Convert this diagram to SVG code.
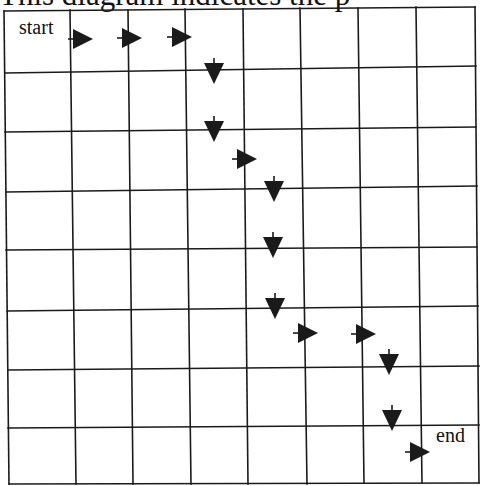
<svg xmlns="http://www.w3.org/2000/svg" width="480" height="486" viewBox="0 0 480 486">
<style>
.g{stroke:#1a1a1a;stroke-width:1.6;fill:none;stroke-linecap:square}
.t{font-family:"Liberation Serif","Times New Roman",serif;fill:#111}
.tail{stroke:#1a1a1a;stroke-width:1.6}
.head{fill:#1a1a1a}
</style>
<defs>
<g id="arrR"><line class="tail" x1="-5" y1="0" x2="1" y2="0"/><polygon class="head" points="0,-10 20,0 0,10"/></g>
<g id="arrD"><line class="tail" x1="0" y1="-5" x2="0" y2="1"/><polygon class="head" points="-10,0 10,0 0,21"/></g>
</defs>
<rect width="480" height="486" fill="#fff"/>
<text class="t" x="-1" y="5" font-size="31">This diagram indicates the p</text>
<g id="grid" class="g">
<line x1="4" y1="11" x2="475" y2="7"/>
<line x1="5" y1="73" x2="476" y2="66"/>
<line x1="5" y1="132" x2="476" y2="127"/>
<line x1="6" y1="192" x2="477" y2="186"/>
<line x1="6" y1="250" x2="477" y2="247"/>
<line x1="7" y1="311" x2="478" y2="306"/>
<line x1="8" y1="370" x2="479" y2="366"/>
<line x1="8" y1="428" x2="479" y2="425"/>
<line x1="9" y1="484" x2="479" y2="483"/>
<line x1="4" y1="11" x2="9" y2="484"/>
<line x1="70" y1="10" x2="76" y2="484"/>
<line x1="128" y1="10" x2="133" y2="484"/>
<line x1="185" y1="9" x2="191" y2="484"/>
<line x1="243" y1="9" x2="248" y2="484"/>
<line x1="300" y1="8" x2="307" y2="484"/>
<line x1="358" y1="8" x2="364" y2="483"/>
<line x1="416" y1="7" x2="422" y2="483"/>
<line x1="475" y1="7" x2="479" y2="483"/>
</g>
<g id="start"><text class="t" x="19" y="34" font-size="20">start</text></g>
<g id="end"><text class="t" x="436" y="442" font-size="20">end</text></g>
<g id="connectors">
<use href="#arrR" x="73" y="39"/>
<use href="#arrR" x="122" y="38"/>
<use href="#arrR" x="172" y="37"/>
<use href="#arrD" x="214" y="63"/>
<use href="#arrD" x="214" y="121"/>
<use href="#arrR" x="237" y="159"/>
<use href="#arrD" x="274" y="181"/>
<use href="#arrD" x="273" y="237"/>
<use href="#arrD" x="275" y="298"/>
<use href="#arrR" x="298" y="333"/>
<use href="#arrR" x="356" y="334"/>
<use href="#arrD" x="389" y="354"/>
<use href="#arrD" x="392" y="410"/>
<use href="#arrR" x="410" y="452"/>
</g>
</svg>
